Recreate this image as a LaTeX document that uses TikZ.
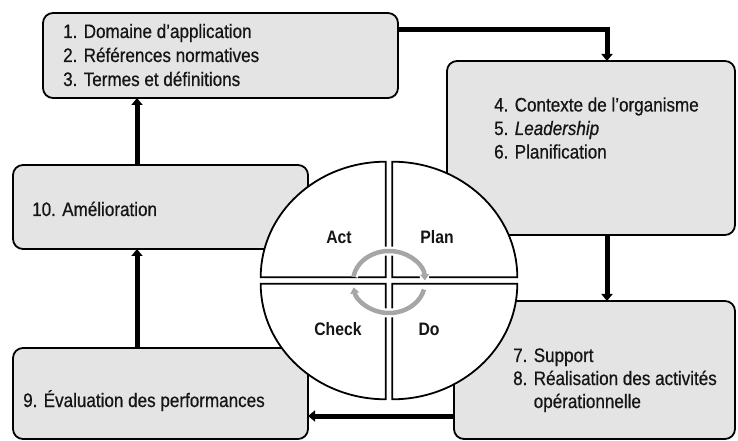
\documentclass[tikz,border=0pt]{standalone}
\usepackage{fontspec}
\setmainfont{Liberation Sans}[FakeStretch=0.875, UprightFeatures={FakeBold=0.6}, ItalicFeatures={FakeBold=0.6}]
\usetikzlibrary{arrows.meta,calc}
\definecolor{boxfill}{HTML}{E4E4E4}
\definecolor{txtc}{HTML}{151515}
\definecolor{ringc}{HTML}{A6A6A6}
\begin{document}
\begin{tikzpicture}[x=1bp,y=-1bp,
  box/.style={draw=black, line width=1.8bp, fill=boxfill, rounded corners=10bp, inner sep=0pt, outer sep=0pt, anchor=north west},
  boxtext/.style={anchor=base west, inner sep=0pt, text=txtc, font=\fontsize{19.5bp}{24bp}\selectfont},
  pdca/.style={anchor=base, inner sep=0pt, text=txtc, font=\fontsize{18bp}{22bp}\selectfont\bfseries},
  quad/.style={draw=black, line width=1.8bp, fill=white},
  flow/.style={line width=5bp, -{Triangle[width=11bp,length=7bp]}},
  cyc/.style={draw=ringc, line width=4.5bp, -{Triangle[width=9bp,length=6bp]}},
  halo/.style={draw=white, line width=9bp}]
\useasboundingbox (0,0) rectangle (738,441);
% boxes
\node[box, minimum width=355bp, minimum height=85bp] (A) at (43,13) {};
\node[box, minimum width=288bp, minimum height=174bp] (B) at (447,61) {};
\node[box, minimum width=295bp, minimum height=84bp] (C) at (13,165) {};
\node[box, minimum width=295bp, minimum height=91bp] (D) at (13,348) {};
\node[box, minimum width=281bp, minimum height=138bp] (E) at (454,301) {};
% helper coordinates
\coordinate (cola) at (137,0);
\coordinate (colb) at (607,0);
\coordinate (rowa) at (0,30);
\coordinate (rowe) at (0,416);
% connectors
\draw[flow] (C.north -| cola) -- (A.south -| cola);
\draw[flow] (A.east |- rowa) -| (B.north -| colb);
\draw[flow] (B.south -| colb) -- (E.north -| colb);
\draw[flow] (E.west |- rowe) -- (D.east |- rowe);
\draw[flow] (D.north -| cola) -- (C.south -| cola);
% PDCA quadrants
\path[quad] (385.7,277.2) -- ++(-125,0) arc[start angle=180, end angle=270, x radius=125, y radius=115.5] -- cycle;
\path[quad] (392.3,277.2) -- ++(125,0) arc[start angle=0, end angle=-90, x radius=125, y radius=115.5] -- cycle;
\path[quad] (385.7,283.8) -- ++(-125,0) arc[start angle=180, end angle=90, x radius=125, y radius=115.5] -- cycle;
\path[quad] (392.3,283.8) -- ++(125,0) arc[start angle=0, end angle=90, x radius=125, y radius=115.5] -- cycle;
% cycle ring
\coordinate (rc) at (389,282);
\draw[halo] ($(rc)+({36*cos(-170)},{31*sin(-170)})$) arc[start angle=-170, end angle=-3, x radius=36, y radius=31];
\draw[halo] ($(rc)+({36*cos(14)},{31*sin(14)})$) arc[start angle=14, end angle=170, x radius=36, y radius=31];
\draw[cyc] ($(rc)+({36*cos(-170)},{31*sin(-170)})$) arc[start angle=-170, end angle=-3, x radius=36, y radius=31];
\draw[cyc] ($(rc)+({36*cos(14)},{31*sin(14)})$) arc[start angle=14, end angle=170, x radius=36, y radius=31];
% PDCA labels
\node[pdca] (act) at (339,244) {Act};
\node[pdca] (plan) at (437,244) {Plan};
\node[pdca] (check) at (338,336) {Check};
\node[pdca] (do) at (429,336) {Do};
% box texts
\node[boxtext] (a1) at (63,38) {1. Domaine d’application};
\node[boxtext] (a2) at (63,62) {2. Références normatives};
\node[boxtext] (a3) at (63,86) {3. Termes et définitions};
\node[boxtext] (b1) at (494,111.5) {4. Contexte de l’organisme};
\node[boxtext] (b2) at (494,135) {5. \textit{Leadership}};
\node[boxtext] (b3) at (494,158.5) {6. Planification};
\node[boxtext] (c1) at (32,216) {10. Amélioration};
\node[boxtext] (d1) at (23,407) {9. Évaluation des performances};
\node[boxtext] (e1) at (513,362) {7. Support};
\node[boxtext] (e2) at (513,385) {8. Réalisation des activités};
\node[boxtext] (e3) at (513,408) {\phantom{8. }opérationnelle};
\end{tikzpicture}
\end{document}
